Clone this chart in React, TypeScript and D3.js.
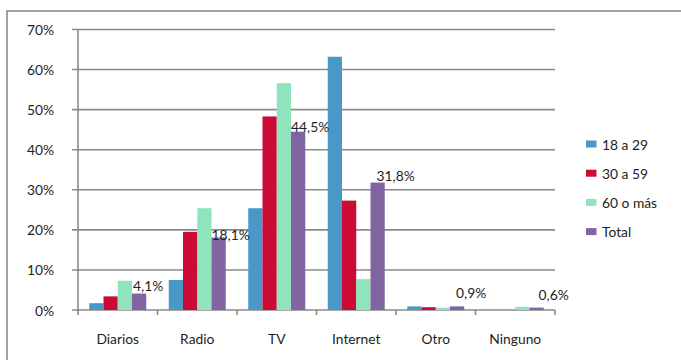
import React from "react";
import * as d3 from "d3";

const categories = ["Diarios", "Radio", "TV", "Internet", "Otro", "Ninguno"];
const seriesNames = ["18 a 29", "30 a 59", "60 o más", "Total"];
const s18a29 = [1.7, 7.5, 25.4, 63.2, 0.9, 0];
const s30a59 = [3.4, 19.5, 48.3, 27.3, 0.7, 0];
const s60mas = [7.3, 25.4, 56.6, 7.7, 0.6, 0.8];
const sTotal = [4.1, 18.1, 44.5, 31.8, 0.9, 0.6];
const totalLabels = ["4,1%", "18,1%", "44,5%", "31,8%", "0,9%", "0,6%"];
const yTicks = [0, 10, 20, 30, 40, 50, 60, 70];

const colors = ["#4a98c8", "#cc0a36", "#8fe3bd", "#8165a3"];
// manual label nudges (layout, not data)
const labelDx = [1, 0, 0, 6, 6, 9];
const labelDy = [-7.6, -3.4, -5.6, -7.5, -14, -12.6];

const W = 681;
const H = 360;
const left = 78;
const right = 555;
const top = 29.5;
const bottom = 310;
const font = "Lato, 'Open Sans', sans-serif";
const fs = 13.8;

export default function App() {
  const series = [s18a29, s30a59, s60mas, sTotal];
  const x = d3.scaleBand<string>().domain(categories).range([left, right]).padding(0);
  const bw = x.bandwidth();
  const pad = bw * 0.1415;
  const xs = d3
    .scaleBand<string>()
    .domain(seriesNames)
    .range([pad, bw - pad])
    .padding(0);
  const y = d3.scaleLinear().domain([0, 70]).range([bottom, top]);

  return (
    <svg
      width={W}
      height={H}
      style={{ position: "absolute", left: 0, top: 0, background: "#fff" }}
    >
      <rect x={7} y={11} width={W} height={H} fill="#fff" stroke="#8a8a8a" strokeWidth={1.6} />
      {/* gridlines & y axis ticks */}
      {yTicks.map((t) => (
        <g key={t}>
          <line x1={left - 6} x2={right} y1={y(t)} y2={y(t)} stroke="#8a8a8a" strokeWidth={1.6} />
          <text
            x={54}
            y={y(t)}
            textAnchor="end"
            dominantBaseline="central"
            fontFamily={font}
            fontSize={fs}
            fill="#1e1e1e"
          >
            {t}%
          </text>
        </g>
      ))}
      <line x1={left} x2={left} y1={top} y2={bottom + 5} stroke="#8a8a8a" strokeWidth={1.6} />
      {/* x ticks */}
      {categories.map((c) => (
        <line
          key={"t" + c}
          x1={(x(c) as number) + bw}
          x2={(x(c) as number) + bw}
          y1={bottom}
          y2={bottom + 5}
          stroke="#8a8a8a"
          strokeWidth={1.6}
        />
      ))}
      {/* bars */}
      {series.map((vals, si) =>
        categories.map((c, ci) => {
          const v = vals[ci];
          const bx = (x(c) as number) + (xs(seriesNames[si]) as number);
          return (
            <rect
              key={si + "-" + c}
              x={bx}
              y={y(v)}
              width={xs.bandwidth()}
              height={bottom - y(v)}
              fill={colors[si]}
            />
          );
        })
      )}
      {/* total labels */}
      {categories.map((c, ci) => {
        const bx = (x(c) as number) + (xs(seriesNames[3]) as number);
        return (
          <text
            key={"l" + c}
            x={bx + labelDx[ci]}
            y={y(sTotal[ci]) + labelDy[ci]}
            dominantBaseline="central"
            fontFamily={font}
            fontSize={fs}
            fill="#1e1e1e"
          >
            {totalLabels[ci]}
          </text>
        );
      })}
      {/* category labels */}
      {categories.map((c) => (
        <text
          key={"c" + c}
          x={(x(c) as number) + bw / 2}
          y={338}
          textAnchor="middle"
          dominantBaseline="central"
          fontFamily={font}
          fontSize={fs}
          fill="#1e1e1e"
        >
          {c}
        </text>
      ))}
      {/* legend */}
      {seriesNames.map((s, i) => (
        <g key={"lg" + s} transform={`translate(586, ${144 + i * 29.2})`}>
          <rect x={0} y={-3.5} width={10.5} height={7} fill={colors[i]} />
          <text
            x={16}
            y={0}
            dominantBaseline="central"
            fontFamily={font}
            fontSize={fs}
            fill="#1e1e1e"
          >
            {s}
          </text>
        </g>
      ))}
    </svg>
  );
}
